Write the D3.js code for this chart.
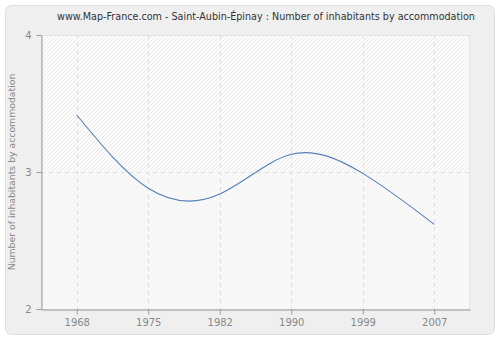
<!DOCTYPE html>
<html><head><meta charset="utf-8">
<script src="https://cdn.jsdelivr.net/npm/d3@7"></script>
<style>
body{margin:0;background:#fff;}
svg{display:block;font-family:"DejaVu Sans",Verdana,sans-serif;}
</style></head>
<body><svg id="c" width="500" height="340"></svg>
<script>
const years = ["1968","1975","1982","1990","1999","2007"];
const values = [3.416, 2.881, 2.839, 3.129, 2.99, 2.618];
const yTicks = [2, 3, 4];
const title = "www.Map-France.com - Saint-Aubin-Épinay : Number of inhabitants by accommodation";
const yLabel = "Number of inhabitants by accommodation";

const svg = d3.select("#c");
const L = 41, R = 470, T = 35, B = 309;

const defs = svg.append("defs");
function hatch(id, bg, line) {
  const p = defs.append("pattern").attr("id", id).attr("patternUnits", "userSpaceOnUse")
    .attr("width", 4).attr("height", 4);
  p.append("rect").attr("width", 4).attr("height", 4).attr("fill", bg);
  p.append("path").attr("d", "M-1,1 L1,-1 M0,4 L4,0 M3,5 L5,3").attr("stroke", line).attr("stroke-width", 0.8);
}
hatch("h1", "#fbfbfb", "#e9e9e9");
hatch("h2", "#f9f9f9", "#f0f0f0");

svg.append("rect").attr("x", 5.5).attr("y", 5.5).attr("width", 489).attr("height", 329)
  .attr("rx", 6).attr("fill", "#efefef").attr("stroke", "#dedede");

const x = d3.scalePoint().domain(years).range([L, R]).padding(0.5);
const y = d3.scaleLinear().domain([2, 4]).range([B, T]);

svg.append("rect").attr("x", L).attr("y", T).attr("width", R - L).attr("height", y(3) - T)
  .attr("fill", "url(#h1)");
svg.append("rect").attr("x", L).attr("y", y(3)).attr("width", R - L).attr("height", B - y(3))
  .attr("fill", "url(#h2)");
svg.append("rect").attr("x", L + 0.5).attr("y", T + 0.5).attr("width", R - L - 1).attr("height", B - T)
  .attr("fill", "none").attr("stroke", "#e4e4e4");

const grid = svg.append("g").attr("stroke", "#e0e0e0").attr("stroke-dasharray", "4,4").attr("fill", "none");
years.forEach(d => grid.append("line").attr("x1", Math.round(x(d)) + 0.5).attr("x2", Math.round(x(d)) + 0.5)
  .attr("y1", T).attr("y2", B));
grid.append("line").attr("x1", L).attr("x2", R).attr("y1", Math.round(y(3)) + 0.5).attr("y2", Math.round(y(3)) + 0.5);

const line = d3.line().x((d, i) => x(years[i])).y(d => y(d)).curve(d3.curveNatural);
svg.append("path").datum(values).attr("d", line).attr("fill", "none")
  .attr("stroke", "#5580b8").attr("stroke-width", 1.1);

const ax = svg.append("g").attr("transform", `translate(0,${B + 0.5})`)
  .call(d3.axisBottom(x).tickSize(5).tickPadding(4).tickSizeOuter(0));
const ay = svg.append("g").attr("transform", `translate(${L + 0.5},0)`)
  .call(d3.axisLeft(y).tickValues(yTicks).tickFormat(d3.format("d")).tickSize(5).tickPadding(5).tickSizeOuter(0));
[ax, ay].forEach(g => {
  g.selectAll(".domain").attr("stroke", "#999");
  g.selectAll(".tick line").attr("stroke", "#999");
  g.selectAll("text").attr("fill", "#888").attr("font-size", 10).attr("font-family", "DejaVu Sans, Verdana, sans-serif");
});

svg.append("text").attr("x", 266).attr("y", 20).attr("text-anchor", "middle")
  .attr("font-size", 9.6).attr("fill", "#333").text(title);
svg.append("text").attr("transform", `translate(15,${(T + B) / 2}) rotate(-90)`).attr("text-anchor", "middle")
  .attr("font-size", 9.3).attr("fill", "#888").text(yLabel);
</script></body></html>
